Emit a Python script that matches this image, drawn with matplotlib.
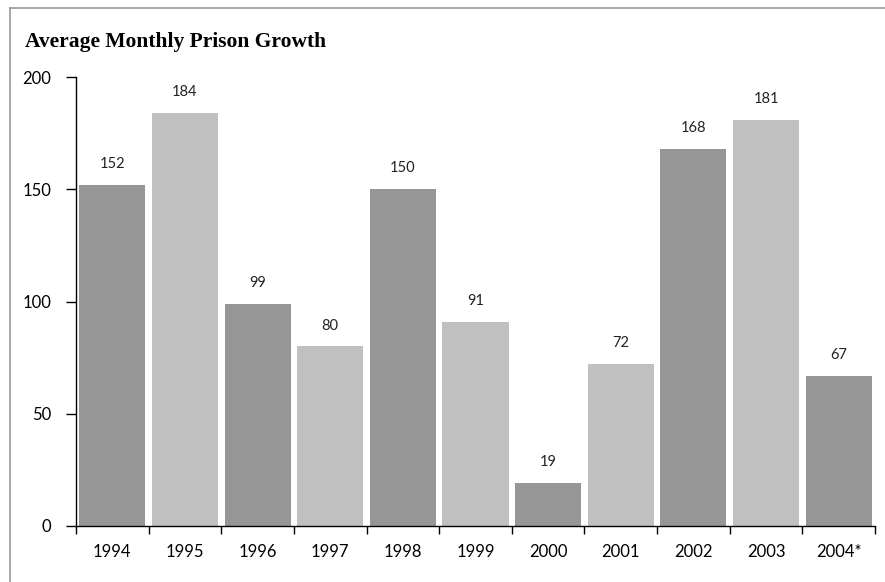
import matplotlib
matplotlib.use("Agg")
import matplotlib.pyplot as plt
from matplotlib.lines import Line2D

years = ["1994", "1995", "1996", "1997", "1998", "1999", "2000", "2001", "2002", "2003", "2004*"]
values = [152, 184, 99, 80, 150, 91, 19, 72, 168, 181, 67]
dark = "#969696"
light = "#c0c0c0"
colors = [dark if i % 2 == 0 else light for i in range(len(values))]

plt.rcParams['font.family'] = ['Lato', 'DejaVu Sans']

fig = plt.figure(figsize=(8.85, 5.82), dpi=100)
ax = fig.add_axes([76/885, 1-526/582, (875-76)/885, (526-77)/582])

x = list(range(len(values)))
ax.bar(x, values, width=0.91, color=colors, zorder=2)
for xi, v in zip(x, values):
    ax.annotate(str(v), (xi, v), xytext=(0, 10), textcoords="offset points",
                ha="center", va="bottom", fontsize=10.5, color="#222222")

ax.set_xlim(-0.5, len(values) - 0.5)
ax.set_ylim(0, 200)
ax.set_yticks([0, 50, 100, 150, 200])
ax.set_yticklabels(["0", "50", "100", "150", "200"], fontsize=12)
ax.set_xticks([i - 0.5 for i in range(len(values) + 1)])
ax.set_xticklabels([])
ax.set_xticks(x, minor=True)
ax.set_xticklabels(years, minor=True, fontsize=12)
ax.tick_params(axis="x", which="minor", length=0, pad=13)
ax.tick_params(axis="x", which="major", length=6, width=1, direction="out")
ax.tick_params(axis="y", length=7, width=1, direction="out", pad=11)
for s in ["top", "right"]:
    ax.spines[s].set_visible(False)
for s in ["left", "bottom"]:
    ax.spines[s].set_linewidth(1)
    ax.spines[s].set_color("black")

fig.text(25/885, 1-42/582, "Average Monthly Prison Growth", fontsize=15.5, fontweight="bold",
         family=["Liberation Serif", "DejaVu Serif"], va="center", ha="left")

fig.add_artist(Line2D([10/885, 1.0], [1-7.5/582, 1-7.5/582], transform=fig.transFigure, color="#999999", lw=1.2))
fig.add_artist(Line2D([10/885, 10/885], [0, 1-7.5/582], transform=fig.transFigure, color="#999999", lw=1.2))

fig.savefig("out.png", dpi=100)
